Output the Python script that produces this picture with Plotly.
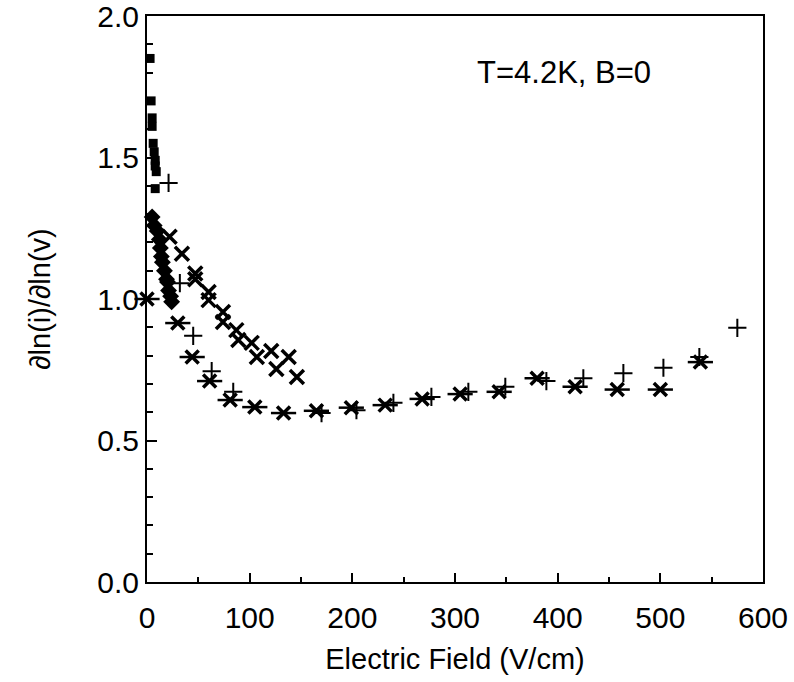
import plotly.graph_objects as go

# Filled squares
sq_x = [3, 4, 5, 5, 6, 7, 8, 8, 9, 8]
sq_y = [1.85, 1.70, 1.64, 1.61, 1.55, 1.52, 1.49, 1.47, 1.45, 1.39]

# Filled diamonds
dm_x = [5, 7, 10, 12, 13, 14, 15, 17, 19, 20, 21, 23, 24]
dm_y = [1.29, 1.26, 1.24, 1.21, 1.18, 1.15, 1.13, 1.10, 1.07, 1.06, 1.03, 1.01, 0.99]

# Crosses (x) - upper branch, two runs
x1_x = [22, 34, 47, 60, 74, 87, 102, 121, 138]
x1_y = [1.22, 1.16, 1.09, 1.025, 0.954, 0.89, 0.845, 0.816, 0.795]
x2_x = [47, 60, 74, 89, 107, 126, 146]
x2_y = [1.07, 0.996, 0.919, 0.855, 0.795, 0.753, 0.724]

# Asterisks - lower branch
as_x = [0, 30, 44, 61, 81, 105, 133, 165, 199, 232, 268, 305, 343, 380, 417, 458, 500, 539]
as_y = [1.0, 0.915, 0.795, 0.71, 0.643, 0.618, 0.597, 0.605, 0.616, 0.625, 0.647, 0.664, 0.672, 0.72, 0.69, 0.68, 0.68, 0.777]

# Plus markers
pl_x = [21, 32, 45, 63, 84, 170, 204, 240, 277, 313, 349, 389, 425, 464, 503, 538, 575]
pl_y = [1.41, 1.056, 0.87, 0.745, 0.672, 0.597, 0.607, 0.633, 0.654, 0.672, 0.69, 0.71, 0.72, 0.738, 0.757, 0.795, 0.898]

x_ticks = [0, 100, 200, 300, 400, 500, 600]
y_ticks = [0.0, 0.5, 1.0, 1.5, 2.0]

FONT = "Liberation Sans, Arial, Helvetica"

fig = go.Figure()
fig.add_trace(go.Scatter(x=sq_x, y=sq_y, mode="markers", cliponaxis=False,
                         marker=dict(symbol="square", size=9, color="black")))
fig.add_trace(go.Scatter(x=dm_x, y=dm_y, mode="markers", cliponaxis=False,
                         marker=dict(symbol="diamond", size=13, color="black")))
for xs, ys in [(x1_x, x1_y), (x2_x, x2_y)]:
    fig.add_trace(go.Scatter(x=xs, y=ys, mode="markers",
                             marker=dict(symbol="x-thin-open", size=14, color="black",
                                         line=dict(width=3.5, color="black"))))
fig.add_trace(go.Scatter(x=as_x, y=as_y, mode="markers", cliponaxis=False,
                         marker=dict(symbol="x-thin-open", size=13, color="black",
                                     line=dict(width=3.5, color="black"))))
fig.add_trace(go.Scatter(x=as_x, y=as_y, mode="markers", cliponaxis=False,
                         marker=dict(symbol="line-ew-open", size=18, color="black",
                                     line=dict(width=2.5, color="black"))))
fig.add_trace(go.Scatter(x=pl_x, y=pl_y, mode="markers", cliponaxis=False,
                         marker=dict(symbol="cross-thin-open", size=13, color="black",
                                     line=dict(width=2, color="black"))))

fig.add_annotation(x=319, y=1.80, xref="x", yref="y", text="T=4.2K, B=0",
                   showarrow=False, xanchor="left", yanchor="middle",
                   font=dict(family=FONT, size=31, color="black"))

axis_common = dict(showline=True, linewidth=2, linecolor="black", mirror=True,
                   ticks="inside", tickwidth=2, tickcolor="black",
                   showgrid=False, zeroline=False, automargin=False,
                   ticklabeloverflow="allow",
                   tickfont=dict(family=FONT, size=30, color="black"))

fig.update_xaxes(range=[0, 600], tickvals=x_ticks, ticklen=9, ticklabelstandoff=8,
                 minor=dict(dtick=50, ticklen=5, tickwidth=2, tickcolor="black", ticks="inside"),
                 title=dict(text="Electric Field (V/cm)", standoff=16,
                            font=dict(family=FONT, size=29, color="black")),
                 **axis_common)
fig.update_yaxes(range=[0, 2.0], tickvals=y_ticks, tickformat=".1f", ticklen=10,
                 minor=dict(dtick=0.1, ticklen=6, tickwidth=2, tickcolor="black", ticks="inside"),
                 title=dict(text="∂ln(i)/∂ln(v)", standoff=38,
                            font=dict(family=FONT, size=29, color="black")),
                 **axis_common)

fig.update_layout(width=794, height=682, showlegend=False,
                  plot_bgcolor="white", paper_bgcolor="white",
                  margin=dict(l=147, r=31, t=16, b=100))

fig.write_html("out.html")
